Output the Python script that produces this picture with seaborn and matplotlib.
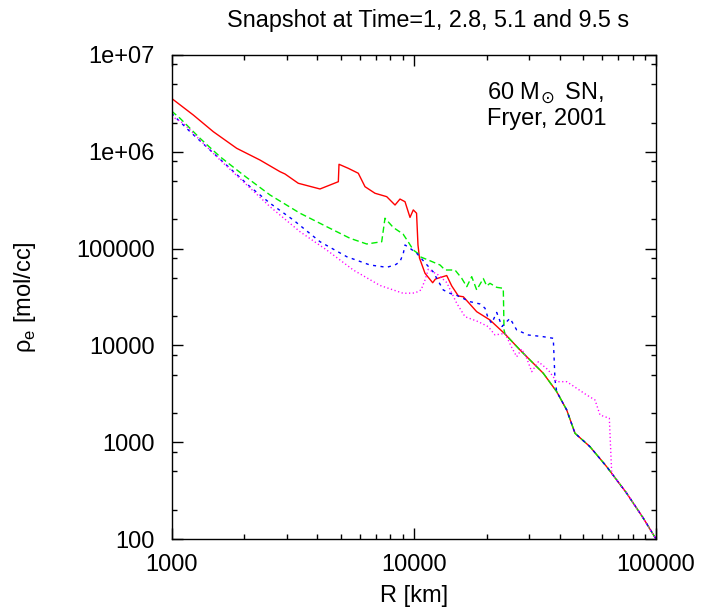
import numpy as np
import pandas as pd
import matplotlib
matplotlib.use("Agg")
import matplotlib.pyplot as plt
import matplotlib.ticker as mticker
import seaborn as sns

# ---------------- data ----------------
tail_r = [38920, 42800, 46310, 53410, 62600, 75680, 88650, 100000]
tail_rho = [3324, 2151, 1236, 898, 558, 297, 164, 100]

mid_r = [23810, 27460, 32180, 34260]
mid_rho = [1.31e4, 8966, 6026, 5150]

red_r = [1000, 1230, 1488, 1858, 2319, 2805, 2941, 3337, 4102, 4732, 4883, 4914,
         5368, 5904, 6292, 6918, 7733, 8369, 8773, 9203, 9650, 9956, 10270,
         10410, 10560, 11130, 11970, 12290, 13680, 14350, 15280, 16020, 18190,
         20640]
red_rho = [3.57e6, 2.40e6, 1.613e6, 1.087e6, 8.22e5, 6.23e5, 5.90e5, 4.73e5,
           4.13e5, 4.76e5, 4.91e5, 7.43e5, 6.75e5, 6.00e5, 4.36e5, 3.73e5,
           3.44e5, 2.82e5, 3.25e5, 3.05e5, 2.10e5, 2.51e5, 2.32e5, 1.09e5,
           8.0e4, 5.56e4, 4.44e4, 4.85e4, 5.27e4, 4.11e4, 3.24e4, 3.18e4,
           2.23e4, 1.83e4]

green_r = [1000, 1084, 1311, 1586, 1979, 2551, 3392, 4372, 5456, 6395, 7375,
           7608, 8233, 9030, 9495, 9956, 10410, 10610, 11480, 12840, 13460,
           14800, 15780, 16550, 17350, 18190, 19370, 20010, 20640, 22000,
           23420, 23590]
green_rho = [2.64e6, 2.22e6, 1.379e6, 8.90e5, 5.76e5, 3.58e5, 2.32e5, 1.684e5,
             1.278e5, 1.116e5, 1.178e5, 2.06e5, 1.652e5, 1.415e5, 1.170e5,
             9.67e4, 8.90e4, 8.25e4, 7.62e4, 6.77e4, 6.01e4, 6.01e4, 4.93e4,
             4.04e4, 5.13e4, 3.74e4, 4.91e4, 4.11e4, 4.38e4, 3.98e4, 3.89e4,
             1.443e4]

blue_r = [1000, 1193, 1442, 1744, 2109, 2551, 3183, 4102, 5288, 6597, 7733,
          8369, 8773, 9056, 9203, 9650, 10290, 11310, 12040, 12440, 13240,
          14110, 15080, 17070, 18770, 19690, 20260, 20980, 22000, 23140, 24960,
          26610, 29720, 34260, 37670, 38290]
blue_rho = [2.50e6, 1.613e6, 1.044e6, 6.75e5, 4.36e5, 2.94e5, 1.975e5, 1.178e5,
            8.25e4, 6.77e4, 6.41e4, 6.77e4, 7.32e4, 8.94e4, 1.09e5, 1.007e5,
            8.94e4, 6.83e4, 5.73e4, 4.93e4, 3.74e4, 3.45e4, 3.28e4, 2.83e4,
            2.68e4, 2.42e4, 1.92e4, 1.692e4, 2.19e4, 1.568e4, 1.905e4, 1.443e4,
            1.281e4, 1.230e4, 1.184e4, 4391]

mag_r = [1000, 1119, 1311, 1586, 1979, 2551, 3392, 4372, 5629, 7257, 9056,
         10120, 10720, 11130, 11480, 12630, 13680, 15050, 16280, 18480, 20310,
         21650, 23810, 25380, 26610, 27900, 29270, 30690, 32690, 35930, 38920,
         42800, 47070, 51750, 56010, 58730, 64170, 65640, 75680, 88650, 100000]
mag_rho = [2.34e6, 1.970e6, 1.324e6, 8.23e5, 4.91e5, 2.71e5, 1.494e5, 9.67e4,
           6.01e4, 4.16e4, 3.45e4, 3.48e4, 3.74e4, 4.74e4, 6.11e4, 5.34e4,
           4.46e4, 2.72e4, 1.979e4, 1.757e4, 1.560e4, 1.281e4, 1.334e4, 9513,
           7643, 9180, 7357, 5349, 6785, 5570, 4219, 4219, 3605, 3073, 2729,
           1910, 1766, 477, 297, 164, 100]

series_names = ["t1", "t2", "t3", "t4"]
series_colors = ["#ff0000", "#00ee00", "#0000ff", "#ff00ff"]

x_tick_vals = [1000, 10000, 100000]
x_tick_labels = ["1000", "10000", "100000"]
y_tick_vals = [100, 1000, 10000, 100000, 1e6, 1e7]
y_tick_labels = ["100", "1000", "10000", "100000", "1e+06", "1e+07"]

# ---------------- assemble ----------------
curves = {
    "t1": (red_r + mid_r + tail_r, red_rho + mid_rho + tail_rho),
    "t2": (green_r + mid_r + tail_r, green_rho + mid_rho + tail_rho),
    "t3": (blue_r + tail_r, blue_rho + tail_rho),
    "t4": (mag_r, mag_rho),
}
frames = []
for name in series_names:
    r, rho = curves[name]
    frames.append(pd.DataFrame({"R": r, "rho": rho, "series": name}))
df = pd.concat(frames, ignore_index=True)

sns.set_theme(style="white")
plt.rcParams["font.family"] = ["Liberation Sans", "DejaVu Sans"]
plt.rcParams["mathtext.fontset"] = "dejavusans"
plt.rcParams["axes.linewidth"] = 1.0
plt.rcParams["text.color"] = "black"
plt.rcParams["axes.labelcolor"] = "black"
plt.rcParams["xtick.color"] = "black"
plt.rcParams["ytick.color"] = "black"

fig = plt.figure(figsize=(7.03, 6.11), dpi=100)
ax = fig.add_axes([171.5 / 703, 1 - 539 / 611, (656 - 171.5) / 703, (539 - 55) / 611])

sns.lineplot(data=df, x="R", y="rho", hue="series", style="series",
             hue_order=series_names, style_order=series_names,
             palette=dict(zip(series_names, series_colors)),
             dashes={"t1": "", "t2": (4.5, 2.5), "t3": (2.2, 3.2), "t4": (0.9, 1.8)},
             sort=False, estimator=None, units="series", linewidth=1.0,
             legend=False, ax=ax)

ax.set_xscale("log")
ax.set_yscale("log")
ax.set_xlim(1000, 100000)
ax.set_ylim(100, 1e7)

ax.xaxis.set_major_locator(mticker.FixedLocator(x_tick_vals))
ax.xaxis.set_major_formatter(mticker.FixedFormatter(x_tick_labels))
ax.xaxis.set_minor_locator(mticker.LogLocator(base=10, subs=np.arange(2, 10)))
ax.xaxis.set_minor_formatter(mticker.NullFormatter())
ax.yaxis.set_major_locator(mticker.FixedLocator(y_tick_vals))
ax.yaxis.set_major_formatter(mticker.FixedFormatter(y_tick_labels))
ax.yaxis.set_minor_locator(mticker.LogLocator(base=10, subs=[2, 5, 8]))
ax.yaxis.set_minor_formatter(mticker.NullFormatter())

ax.tick_params(which="both", direction="in", top=True, right=True,
               bottom=True, left=True, color="black", width=1.0,
               labelcolor="black")
ax.tick_params(which="major", length=8, labelsize=17)
ax.tick_params(which="minor", length=3.8)
ax.tick_params(axis="y", which="major", pad=12)
ax.tick_params(axis="x", which="major", pad=11)
for s in ax.spines.values():
    s.set_color("black")
    s.set_linewidth(1.0)

ax.set_xlabel("R [km]", fontsize=17, color="black")
ax.set_ylabel("\u03c1$_\\mathregular{e}$ [mol/cc]", fontsize=17, color="black")
ax.xaxis.set_label_coords(0.5, -0.118)
ax.xaxis.label.set_va("center")
ax.yaxis.set_label_coords(-0.302, 0.5)
ax.yaxis.label.set_va("center")

fig.text(428 / 703, 1 - 27 / 611, "Snapshot at Time=1, 2.8, 5.1 and 9.5 s",
         ha="center", va="baseline", fontsize=16.8, color="black")
fig.text(487 / 703, 1 - 100 / 611, "60 M$_{\\!\\odot}$ SN,", ha="left",
         va="baseline", fontsize=17, color="black")
fig.text(487 / 703, 1 - 125 / 611, "Fryer, 2001", ha="left",
         va="baseline", fontsize=17, color="black")

fig.savefig("out.png", dpi=100)
